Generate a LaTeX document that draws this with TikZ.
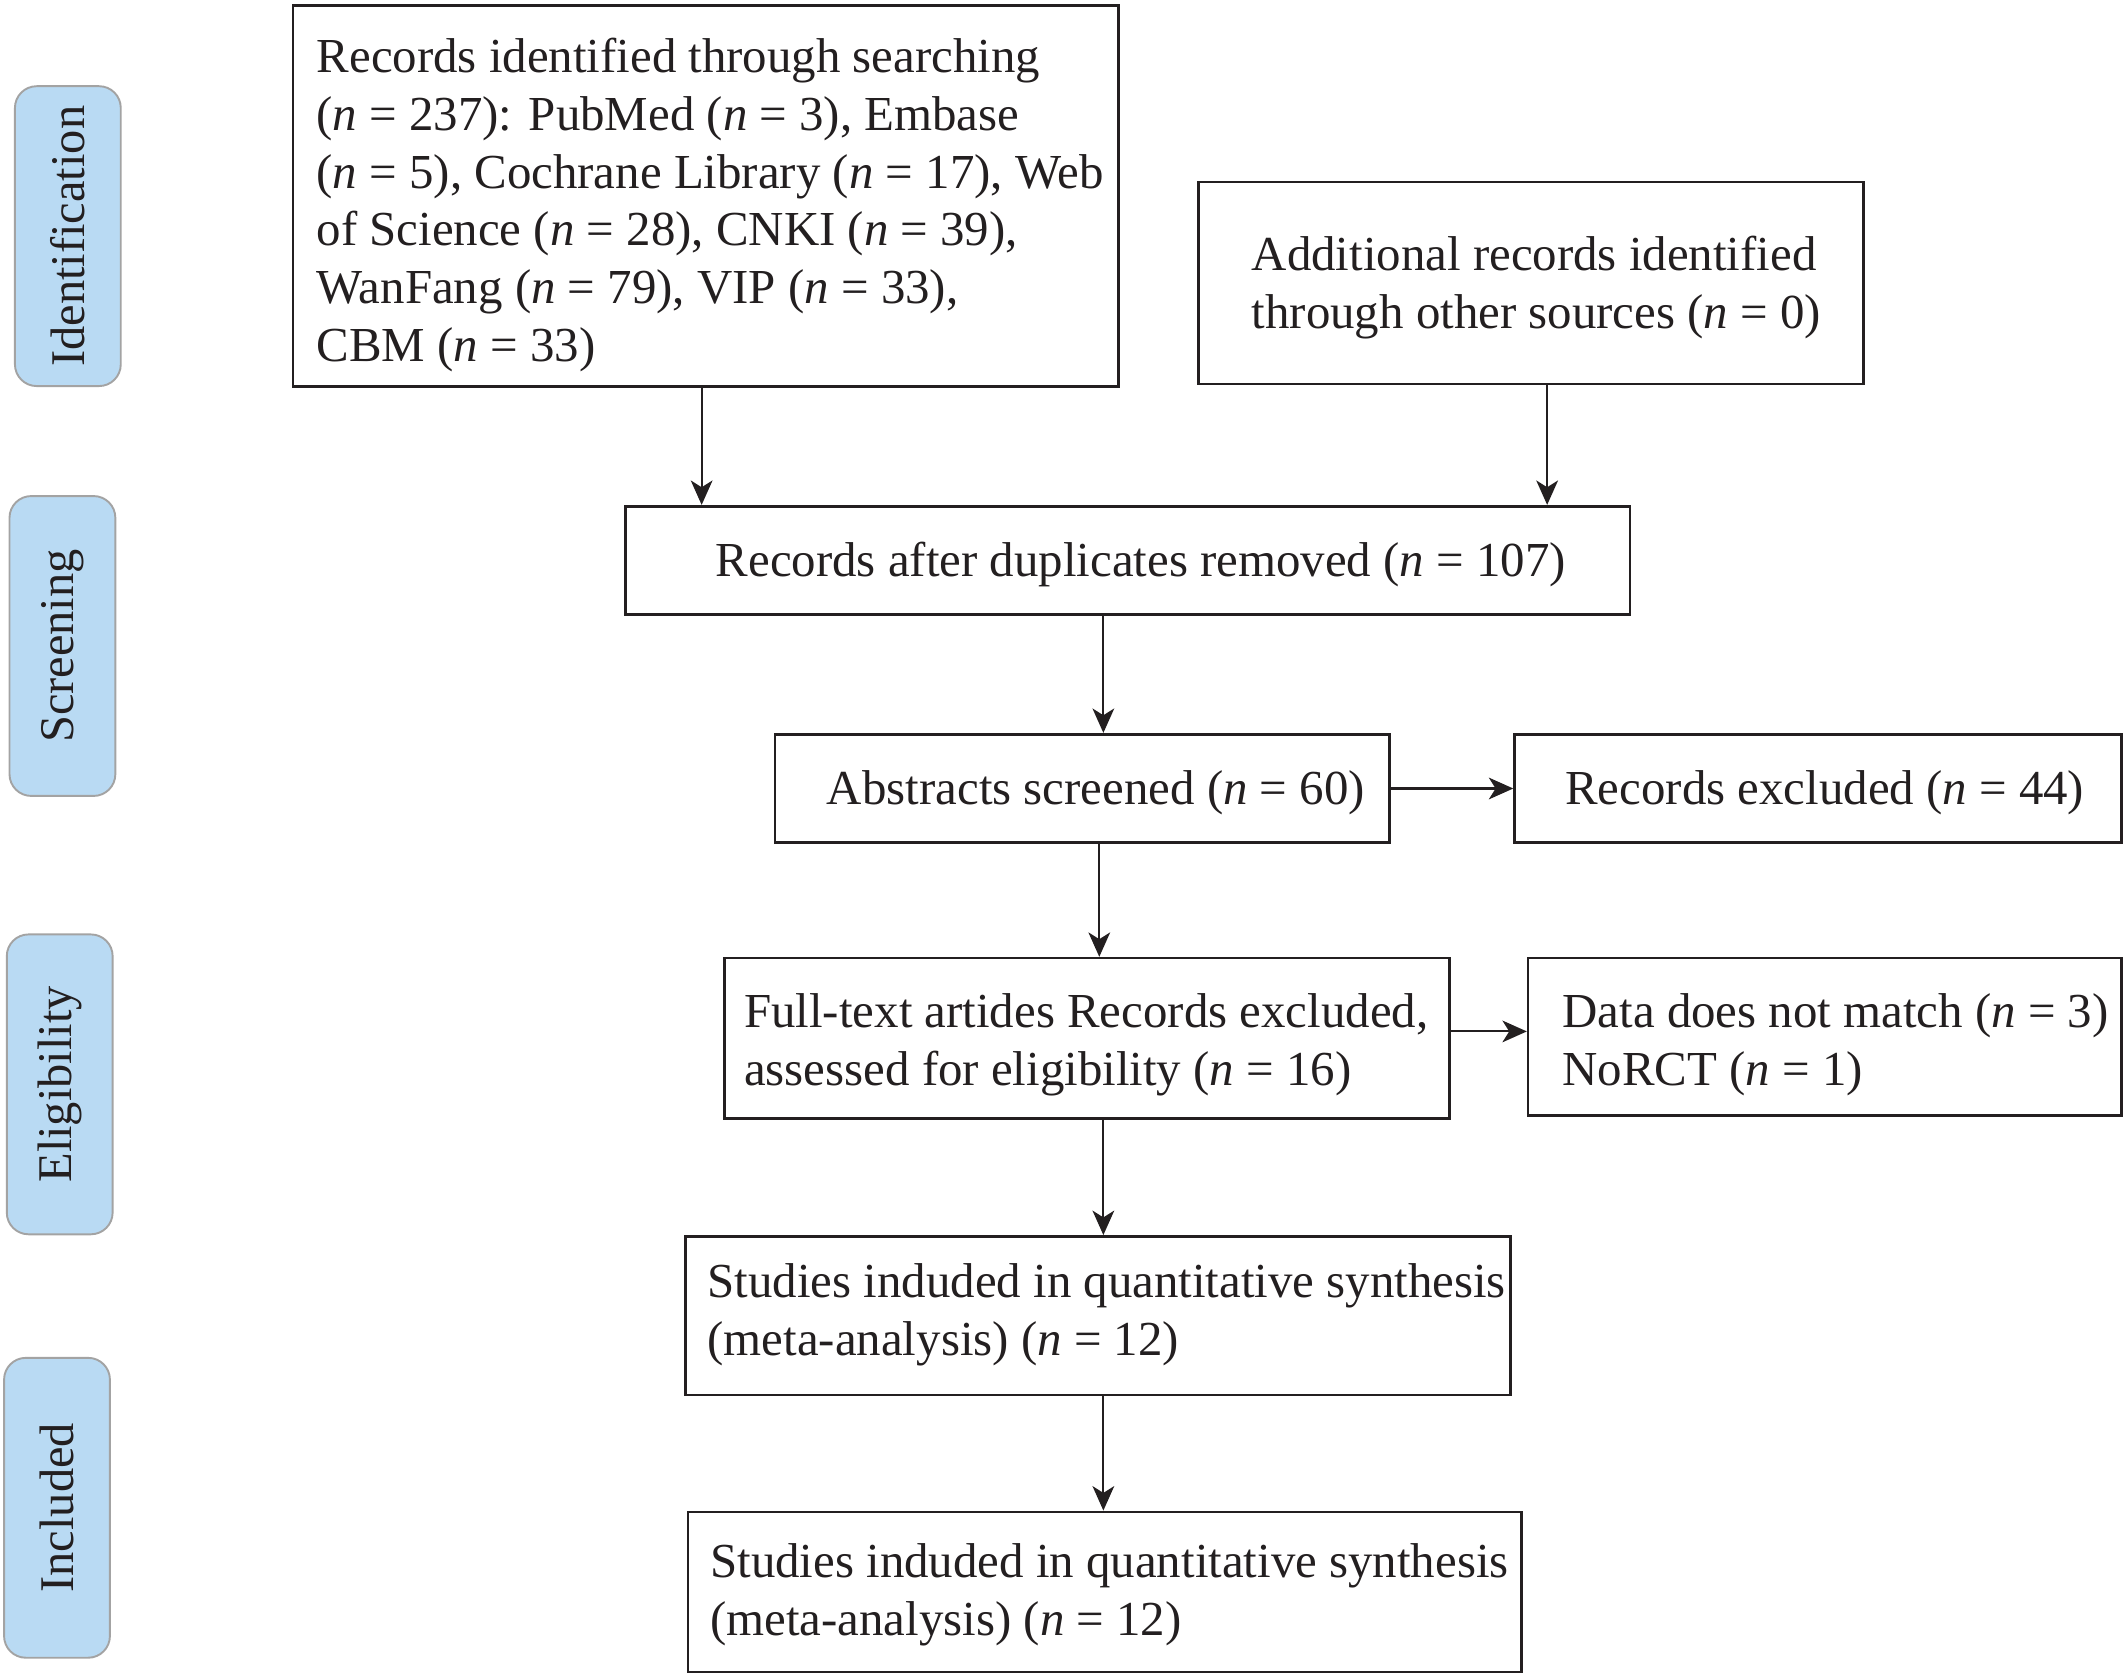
\documentclass[tikz,border=0pt]{standalone}
\usepackage{fontspec}
\setmainfont{Liberation Serif}
\usetikzlibrary{arrows.meta,fit}
\definecolor{ink}{HTML}{231F20}
\definecolor{pillfill}{HTML}{B9DAF3}
\definecolor{pillline}{HTML}{A3A3A3}
\begin{document}
\begin{tikzpicture}[x=0.02cm,y=-0.02cm,
  box/.style={draw=ink, line width=1.1pt, inner sep=0pt},
  txt/.style={anchor=west, align=left, inner sep=0pt, text=ink, font=\fontsize{20.5}{24.2}\selectfont},
  pill/.style={draw=pillline, line width=0.8pt, fill=pillfill, rounded corners=0.32cm, text=ink,
    font=\fontsize{20.3}{24}\selectfont, rotate=90, minimum width=4.42cm, minimum height=1.56cm, inner sep=0pt},
  arr/.style={draw=ink, line width=0.85pt, -{Stealth[length=0.36cm, width=0.32cm, inset=0.1cm]}}]
\useasboundingbox (0,0) rectangle (1568,1237.2);

% phase pills
\node[pill] (p1) at (50,174) {Identification};
\node[pill] (p2) at (46,476) {Screening};
\node[pill] (p3) at (44,799) {Eligibility};
\node[pill] (p4) at (42,1111) {Included};

% boxes
\node[box, fit={(216,4) (824,285)}] (b1) {};
\node[box, fit={(883,134) (1373,283)}] (b2) {};
\node[box, fit={(461,373) (1201,453)}] (b3) {};
\node[box, fit={(571,541) (1024,621)}] (b4) {};
\node[box, fit={(1116,541) (1563,621)}] (b5) {};
\node[box, fit={(534,706) (1068,824)}] (b6) {};
\node[box, fit={(1126,706) (1563,822)}] (b7) {};
\node[box, fit={(505,911) (1113,1028)}] (b8) {};
\node[box, fit={(507,1114) (1121,1232)}] (b9) {};

% texts
\node[txt] (t1) at (233,151) {Records identified through searching\\
(\textit{n} = 237): PubMed (\textit{n} = 3), Embase\\
(\textit{n} = 5), Cochrane Library (\textit{n} = 17), Web\\
of Science (\textit{n} = 28), CNKI (\textit{n} = 39),\\
WanFang (\textit{n} = 79), VIP (\textit{n} = 33),\\
CBM (\textit{n} = 33)};
\node[txt] (t2) at (922,212) {Additional records identified\\through other sources (\textit{n} = 0)};
\node[txt] (t3) at (527,416) {Records after duplicates removed (\textit{n} = 107)};
\node[txt] (t4) at (609,584) {Abstracts screened (\textit{n} = 60)};
\node[txt] (t5) at (1153,584) {Records excluded (\textit{n} = 44)};
\node[txt] (t6) at (548,770) {Full-text artides Records excluded,\\assessed for eligibility (\textit{n} = 16)};
\node[txt] (t7) at (1151,770) {Data does not match (\textit{n} = 3)\\NoRCT (\textit{n} = 1)};
\node[txt] (t8) at (521,969) {Studies induded in quantitative synthesis\\(meta-analysis) (\textit{n} = 12)};
\node[txt] (t9) at (523,1175) {Studies induded in quantitative synthesis\\(meta-analysis) (\textit{n} = 12)};

% connector guide coordinates
\coordinate (xa) at (517,0);
\coordinate (xb) at (1140,0);
\coordinate (xc) at (813,0);
\coordinate (xd) at (810,0);
\coordinate (ya) at (0,760);

\draw[arr] (b1.south -| xa) -- (b3.north -| xa);
\draw[arr] (b2.south -| xb) -- (b3.north -| xb);
\draw[arr] (b3.south -| xc) -- (b4.north -| xc);
\draw[arr] (b4.east) -- (b5.west);
\draw[arr] (b4.south -| xd) -- (b6.north -| xd);
\draw[arr] (b6.east |- ya) -- (b7.west |- ya);
\draw[arr] (b6.south -| xc) -- (b8.north -| xc);
\draw[arr] (b8.south -| xc) -- (b9.north -| xc);
\end{tikzpicture}
\end{document}
